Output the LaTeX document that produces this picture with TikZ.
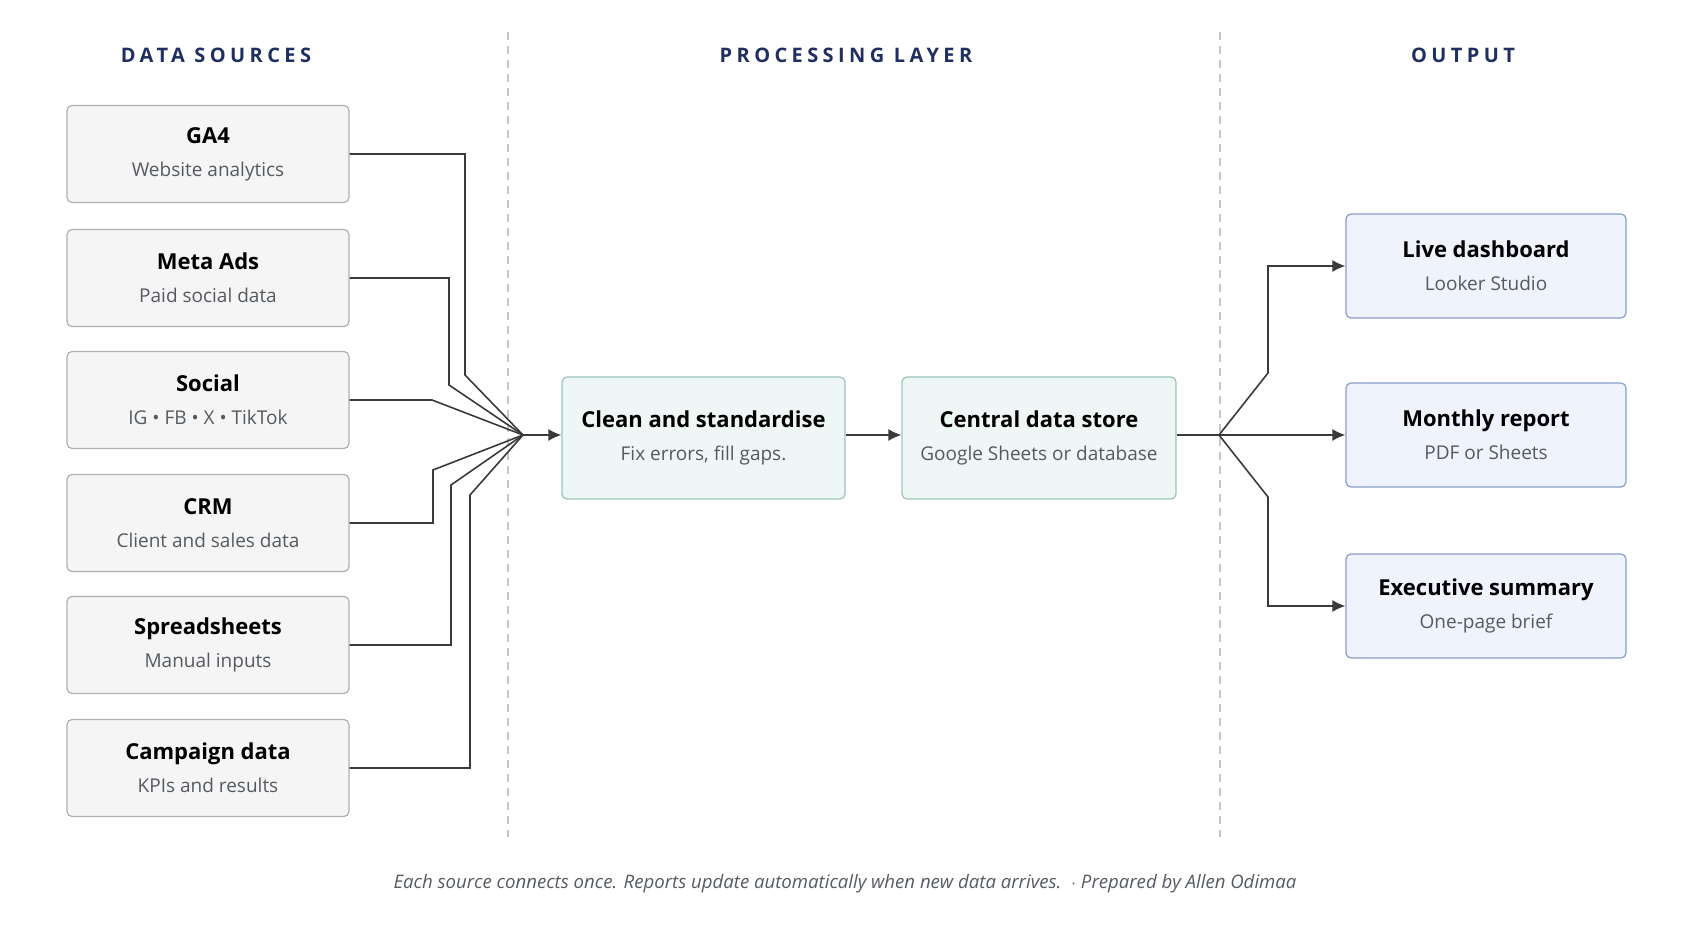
\documentclass[tikz,border=0pt]{standalone}
\usepackage{fontspec}
\setmainfont{Open Sans}
\usetikzlibrary{arrows.meta}
\definecolor{heading}{HTML}{1F2F5F}
\definecolor{subtext}{HTML}{555A60}
\definecolor{linecol}{HTML}{3A3A3A}
\definecolor{srcfill}{HTML}{F5F5F5}
\definecolor{srcdraw}{HTML}{B0B0B0}
\definecolor{procfill}{HTML}{EEF7F5}
\definecolor{procdraw}{HTML}{9CC3BB}
\definecolor{outfill}{HTML}{EEF3FC}
\definecolor{outdraw}{HTML}{8A9CC8}
\newcommand{\boxtxt}[2]{{\fontsize{11}{13}\selectfont\bfseries #1}\\[4.5pt]{\fontsize{9.5}{11}\selectfont\color{subtext}#2}}
\begin{document}
\begin{tikzpicture}[x=0.5pt,y=-0.5pt]
    \tikzstyle{card}=[rounded corners=2.5pt, line width=0.6pt, align=center, inner sep=0pt]
    \tikzstyle{src}=[card, fill=srcfill, draw=srcdraw, minimum width=141pt, minimum height=48.5pt]
    \tikzstyle{proc}=[card, fill=procfill, draw=procdraw, minimum height=61pt]
    \tikzstyle{outp}=[card, fill=outfill, draw=outdraw, minimum width=140pt, minimum height=52pt]
    \tikzstyle{link}=[linecol, line width=0.8pt]
    \tikzstyle{marr}=[link, -{Latex[length=6.5pt,width=6pt]}]
    \tikzstyle{head}=[heading, font=\fontsize{10}{12}\selectfont\bfseries\addfontfeature{LetterSpace=22}]
    \tikzstyle{divider}=[gray!45, line width=0.6pt, dash pattern=on 4pt off 3pt]

    \useasboundingbox (0,0) rectangle (1693,929);

    % column headings and dividers
    \node[head] (h1) at (216,55) {DATA SOURCES};
    \node[head] (h2) at (846,55) {PROCESSING LAYER};
    \node[head] (h3) at (1463,55) {OUTPUT};
    \draw[divider] (508,32) -- (508,837);
    \draw[divider] (1220,32) -- (1220,837);

    % sources
    \foreach \n/\y/\t/\s in {s1/154/GA4/Website analytics, s2/278/Meta Ads/Paid social data,
        s3/400/Social/IG • FB • X • TikTok, s4/523/CRM/Client and sales data,
        s5/645/Spreadsheets/Manual inputs, s6/768/Campaign data/KPIs and results} {
        \node[src] (\n) at (208,\y) {\boxtxt{\t}{\s}};
    }

    % processing
    \node[proc, minimum width=141.5pt] (clean) at (703.5,438) {\boxtxt{Clean and standardise}{Fix errors, fill gaps.}};
    \node[proc, minimum width=137pt] (store) at (1039,438) {\boxtxt{Central data store}{Google Sheets or database}};

    % outputs
    \node[outp] (o1) at (1486,266) {\boxtxt{Live dashboard}{Looker Studio}};
    \node[outp] (o2) at (1486,435) {\boxtxt{Monthly report}{PDF or Sheets}};
    \node[outp] (o3) at (1486,606) {\boxtxt{Executive summary}{One-page brief}};

    \coordinate (hub) at (523,435);
    \coordinate (split) at (1219,435);

    \foreach \n/\vx/\vy in {s1/465/375, s2/449/385, s3/432/400, s4/433/470, s5/451/485, s6/470/495} {
        \draw[link] (\n.east) -| (\vx,\vy) -- (hub);
    }
    \draw[marr] (hub) -- (clean.west |- hub);
    \draw[marr] (clean.east |- hub) -- (store.west |- hub);
    \draw[link] (store.east |- split) -- (split);
    \draw[marr] (split) -- (1268,373) |- (o1.west);
    \draw[marr] (split) -- (o2.west);
    \draw[marr] (split) -- (1268,497) |- (o3.west);

    % footer
    \node[subtext, font=\fontsize{9.3}{11}\selectfont\itshape] (foot) at (845,884)
        {Each source connects once. Reports update automatically when new data arrives.~~$\cdot$ Prepared by Allen Odimaa};
\end{tikzpicture}
\end{document}
